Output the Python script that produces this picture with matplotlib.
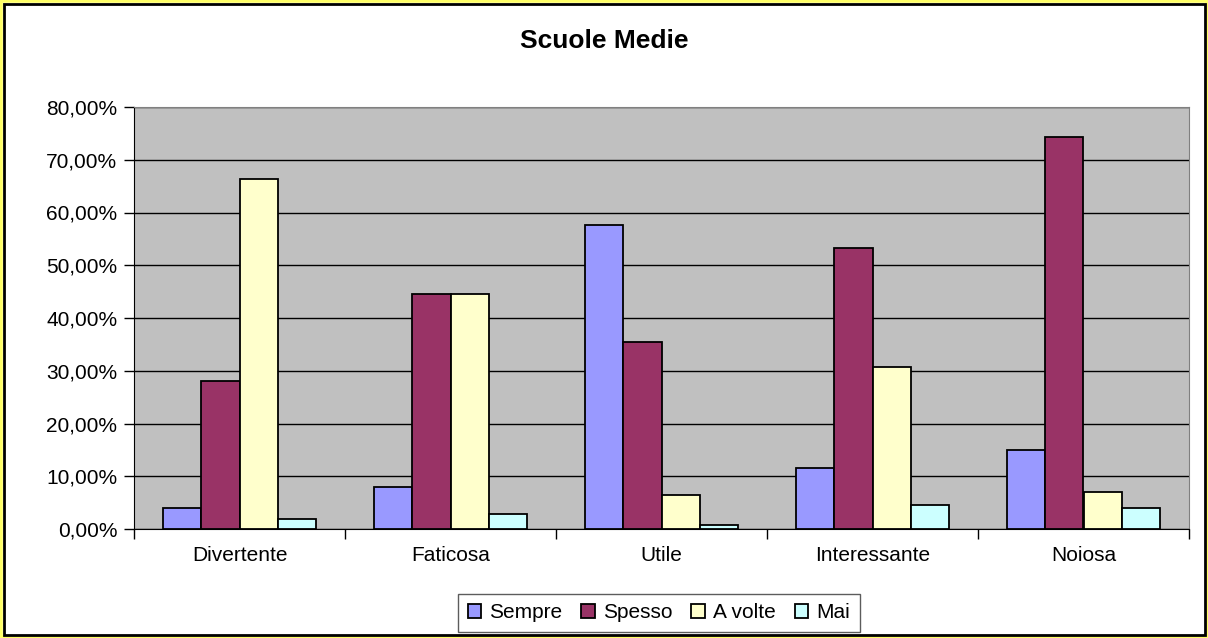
import numpy as np
import matplotlib.pyplot as plt
from matplotlib.patches import Rectangle
from matplotlib.ticker import FuncFormatter, FixedLocator

plt.rcParams['font.family'] = ['Liberation Sans', 'DejaVu Sans']

categories = ['Divertente', 'Faticosa', 'Utile', 'Interessante', 'Noiosa']
series = ['Sempre', 'Spesso', 'A volte', 'Mai']
sempre = [4.0, 7.9, 57.7, 11.5, 15.0]
spesso = [28.1, 44.5, 35.4, 53.3, 74.3]
a_volte = [66.4, 44.5, 6.4, 30.7, 7.0]
mai = [1.9, 2.8, 0.8, 4.5, 4.0]
colors = ['#9999FF', '#993366', '#FFFFCC', '#CCFFFF']

fig = plt.figure(figsize=(12.08, 6.38), dpi=100)

# outer frame: yellow edge with a black line inside
fig.patches.append(Rectangle((0, 0), 1, 1, transform=fig.transFigure,
                             facecolor='white', edgecolor='#FFFF66', linewidth=4, zorder=-2))
fig.patches.append(Rectangle((3.5/1208, 3.5/638), 1 - 7/1208, 1 - 7/638, transform=fig.transFigure,
                             facecolor='none', edgecolor='black', linewidth=2, zorder=-1))

ax = fig.add_axes([134/1208, 1 - 529/638, (1189 - 134)/1208, (529 - 107)/638])
ax.set_facecolor('#C0C0C0')

x = np.arange(len(categories))
w = 1 / 5.5
for i, (vals, c, name) in enumerate(zip([sempre, spesso, a_volte, mai], colors, series)):
    ax.bar(x + (i - 1.5) * w, vals, width=w, color=c, edgecolor='black',
           linewidth=1.3, label=name, zorder=3)

ax.set_xlim(-0.5, len(categories) - 0.5)
ax.set_ylim(0, 80)
ax.set_yticks(np.arange(0, 81, 10))
ax.yaxis.set_major_formatter(FuncFormatter(lambda v, p: f'{v:.2f}%'.replace('.', ',')))
ax.yaxis.grid(True, color='black', linewidth=1)
ax.set_axisbelow(True)

ax.set_xticks(x)
ax.set_xticklabels(categories)
ax.xaxis.set_minor_locator(FixedLocator(np.arange(-0.5, len(categories), 1)))
ax.tick_params(axis='x', which='major', length=0, pad=12, labelsize=15)
ax.tick_params(axis='x', which='minor', length=7, width=1)
ax.tick_params(axis='y', length=7, width=1, labelsize=15, pad=5)

for s in ['top', 'right']:
    ax.spines[s].set_color('#808080')
ax.spines['left'].set_color('black')
ax.spines['bottom'].set_color('black')

fig.text(0.5, 1 - 41/638, 'Scuole Medie', ha='center', va='center',
         fontsize=19, fontweight='bold')

leg = fig.legend(loc='center', bbox_to_anchor=(659/1208, 1 - 613/638), ncol=4,
                 fontsize=15, frameon=True, fancybox=False, edgecolor='#333333',
                 handlelength=0.65, handleheight=0.65, handletextpad=0.4,
                 columnspacing=0.9, borderpad=0.45)
leg.get_frame().set_linewidth(1)

fig.savefig('out.png', dpi=100)
